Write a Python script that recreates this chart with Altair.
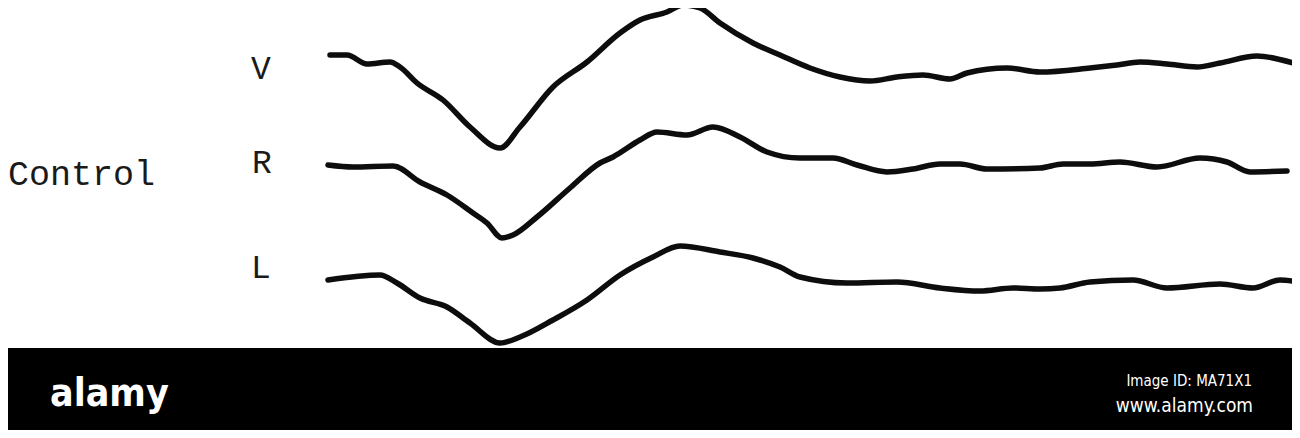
import altair as alt
import pandas as pd

# ---- traces (x position, vertical position; y grows downward) ----
v_x = [330, 347, 367, 390, 400, 417, 443, 470, 500, 520, 553, 587, 620, 640, 667, 683, 700,
       720, 753, 780, 810, 840, 870, 897, 923, 950, 967, 1007, 1040, 1090, 1117, 1140, 1167,
       1197, 1220, 1257, 1293]
v_y = [55, 55, 64, 62, 67, 83, 100, 127, 148, 127, 87, 62, 33, 20, 12, 5, 8,
       23, 43, 55, 68, 77, 81, 77, 75, 79, 73, 68, 72, 68, 65, 62, 64,
       67, 63, 56, 63]

r_x = [328, 353, 393, 420, 447, 473, 487, 502, 513, 537, 570, 600, 613, 640, 657, 687, 713,
       740, 767, 800, 833, 857, 887, 913, 940, 960, 987, 1040, 1063, 1090, 1120, 1157, 1200,
       1227, 1250, 1287]
r_y = [165, 167, 166, 182, 195, 213, 223, 238, 235, 217, 188, 163, 157, 140, 132, 135, 127,
       137, 152, 158, 158, 165, 172, 169, 164, 164, 169, 168, 164, 164, 162, 167, 158,
       162, 172, 171]

l_x = [328, 380, 397, 420, 447, 470, 500, 520, 553, 587, 620, 653, 680, 720, 753, 780, 800,
       847, 897, 940, 980, 1013, 1040, 1060, 1090, 1133, 1167, 1220, 1253, 1280, 1298]
l_y = [280, 275, 283, 298, 307, 323, 343, 337, 320, 300, 275, 257, 246, 252, 258, 267, 277,
       283, 282, 288, 291, 288, 289, 288, 282, 280, 288, 284, 288, 280, 282]

trace_names = ["V", "R", "L"]
label_x = [261, 262, 261]
label_y = [69, 163, 268]
group_label = "Control"
group_pos = [8, 174]

wm_texts = ["Image ID: MA71X1", "www.alamy.com"]
wm_x = [1252, 1253]
wm_y = [381, 406]
wm_size = [15, 19]

# ---- tables ----
rows = []
for name, xs, ys in zip(trace_names, [v_x, r_x, l_x], [v_y, r_y, l_y]):
    for i, (a, b) in enumerate(zip(xs, ys)):
        rows.append({"trace": name, "i": i, "x": a, "y": b})
traces = pd.DataFrame(rows)
labels = pd.DataFrame({"t": trace_names, "x": label_x, "y": label_y})
group = pd.DataFrame({"t": [group_label], "x": [group_pos[0]], "y": [group_pos[1]]})
band = pd.DataFrame({"x": [8], "x2": [1292], "y": [348], "y2": [430]})
wm = pd.DataFrame({"t": wm_texts, "x": wm_x, "y": wm_y, "s": wm_size})
logo = pd.DataFrame({"t": ["alamy"], "x": [50], "y": [406]})

xs = alt.Scale(domain=[8, 1292], nice=False, zero=False)
ys = alt.Scale(domain=[8, 430], nice=False, zero=False, reverse=True)
X = lambda f="x": alt.X(f"{f}:Q", scale=xs, axis=None)
Y = lambda f="y": alt.Y(f"{f}:Q", scale=ys, axis=None)

lines = alt.Chart(traces).mark_line(
    color="#0d0d0d", strokeWidth=5.5, interpolate="monotone",
    strokeCap="round", strokeJoin="round"
).encode(x=X(), y=Y(), detail="trace:N", order="i:Q")

lab = alt.Chart(labels).mark_text(
    font="Liberation Mono", fontSize=33, color="#1a1a1a", align="center", baseline="middle"
).encode(x=X(), y=Y(), text="t:N")

grp = alt.Chart(group).mark_text(
    font="Liberation Mono", fontSize=35, color="#1a1a1a", align="left", baseline="middle"
).encode(x=X(), y=Y(), text="t:N")

bandc = alt.Chart(band).mark_rect(color="#000000").encode(
    x=X(), x2="x2:Q", y=Y(), y2="y2:Q")

logoc = alt.Chart(logo).mark_text(
    font="DejaVu Sans Condensed, Liberation Sans", fontWeight="bold", fontSize=39,
    color="white", align="left", baseline="alphabetic"
).encode(x=X(), y=Y(), text="t:N")

wmc = alt.Chart(wm).mark_text(
    font="DejaVu Sans Condensed, Liberation Sans", color="white", align="right",
    baseline="middle"
).encode(x=X(), y=Y(), text="t:N", size=alt.Size("s:Q", scale=None, legend=None))

chart = alt.layer(lines, lab, grp, bandc, logoc, wmc).properties(
    width=1284, height=422, padding=0, autosize="none", background="white"
).configure_view(strokeWidth=0, stroke="transparent")

chart.save("out.html", embed_options={"renderer": "svg", "actions": False})
